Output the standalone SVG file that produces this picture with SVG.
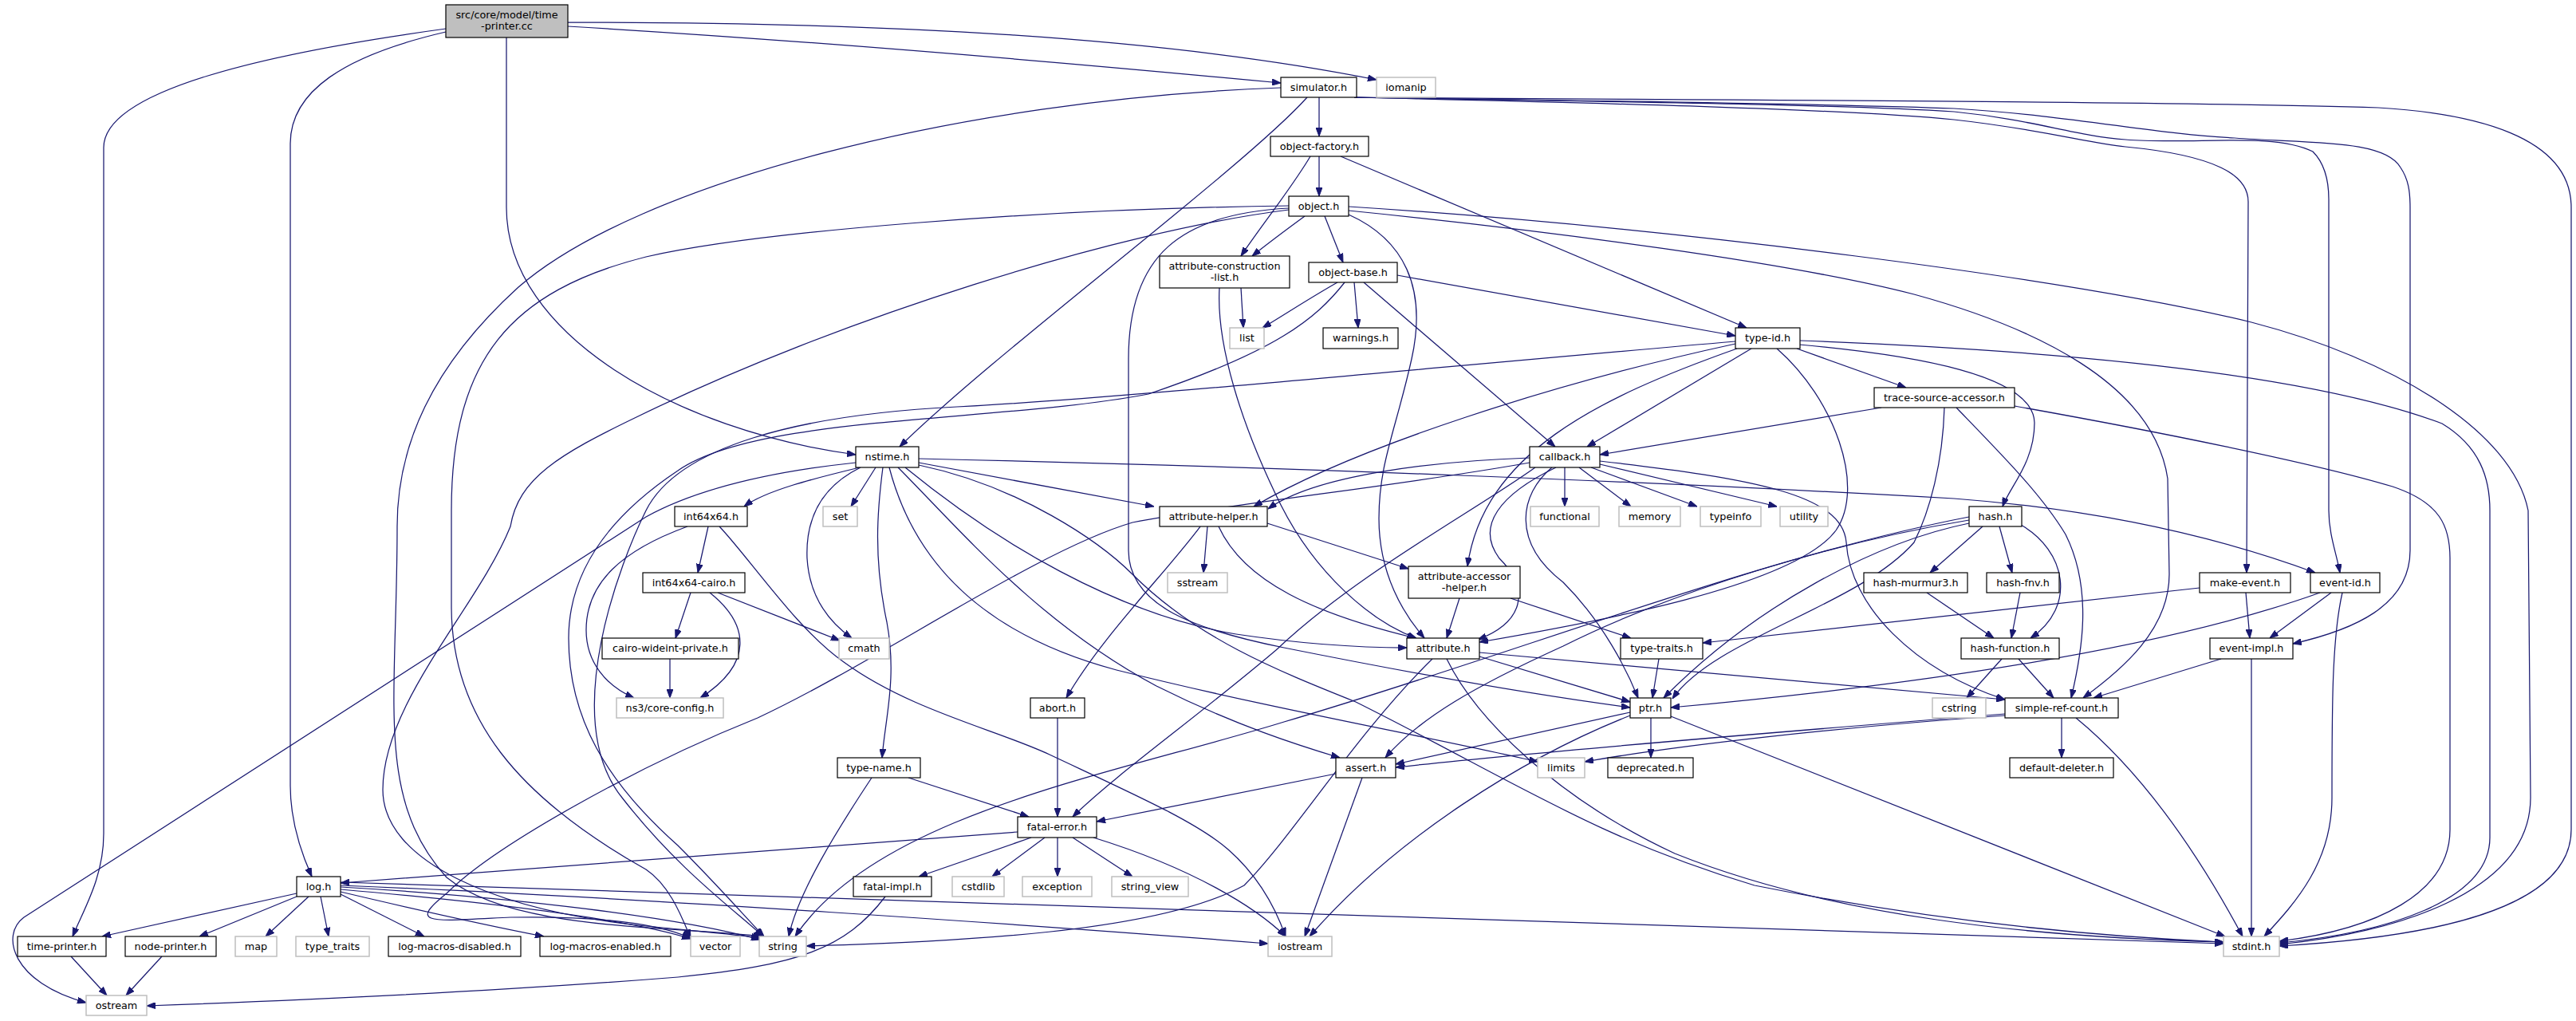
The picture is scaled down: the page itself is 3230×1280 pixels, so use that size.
<svg xmlns="http://www.w3.org/2000/svg" width="3230" height="1280" viewBox="0 0 3230 1280">
<style>
rect{fill:#fff;stroke:#000;stroke-width:1.2}
.x rect{stroke:#bfbfbf;stroke-width:1.5}
#root rect{fill:#bfbfbf}
text{font-family:"DejaVu Sans","Liberation Sans",sans-serif;font-size:12.8px;text-anchor:middle;fill:#000}
.e path{fill:none;stroke:#191970;stroke-width:1.25;marker-end:url(#a)}
</style>
<defs>
<marker id="a" markerUnits="userSpaceOnUse" markerWidth="11" markerHeight="8" refX="11" refY="4" orient="auto" viewBox="0 0 11 8"><path d="M0,0L11,4L0,8z" fill="#191970" stroke="#191970" stroke-width="1"/></marker>
</defs>
<rect x="0" y="0" width="3230" height="1280" style="fill:#fff;stroke:none"/>
<g id="edges" class="e">
<path d="M559,36 C420,55 130,100 130,185 L130,1045 C130,1100 105,1140 91,1174"/>
<path d="M559,40 C430,70 364,115 364,180 L364,985 C364,1030 378,1070 391,1099"/>
<path d="M635,47 L635,260 C635,420 850,540 1073,570"/>
<path d="M712,33 C1000,50 1300,75 1606,104"/>
<path d="M712,28 C1100,28 1450,45 1726,100"/>
<path d="M1654,122 L1654,171"/>
<path d="M1639,122 C1560,210 1250,440 1128,560"/>
<path d="M1606,110 C1200,125 800,230 650,360 C540,460 498,560 498,660 C498,880 470,1000 560,1100 C640,1165 820,1160 956,1174"/>
<path d="M1698,122 C1900,127 2300,135 2450,150 C2560,162 2620,180 2665,184 C2780,195 2819,220 2819,253 L2817,718"/>
<path d="M1698,122 C1900,126 2300,130 2450,140 C2550,150 2600,170 2665,175 C2750,182 2850,165 2900,190 C2915,205 2920,225 2920,250 L2920,640 C2920,670 2930,695 2934,718"/>
<path d="M1698,122 C1900,125 2300,130 2450,136 C2600,145 2700,168 2802,173 C2900,180 2990,175 3010,210 C3020,225 3022,240 3022,260 L3022,690 C3022,760 2950,790 2875,807"/>
<path d="M1698,122 C2000,125 2700,126 2982,135 C3100,142 3224,170 3224,260 L3224,1040 C3224,1140 3050,1175 2858,1186"/>
<path d="M1654,196 L1654,246"/>
<path d="M1643,196 C1620,235 1580,285 1556,321"/>
<path d="M1681,196 L2190,411"/>
<path d="M1636,271 C1610,290 1590,305 1570,321"/>
<path d="M1661,271 L1684,329"/>
<path d="M1691,269 C1760,300 1790,360 1770,450 C1750,540 1729,580 1729,650 C1729,720 1760,770 1786,800"/>
<path d="M1616,261 C1480,268 1415,320 1415,450 L1415,690 C1415,760 1500,790 1610,812 C1750,840 1900,868 2044,887"/>
<path d="M1691,264 C1950,290 2250,330 2400,369 C2550,410 2700,480 2718,600 L2720,720 C2720,790 2660,840 2612,875"/>
<path d="M1691,259 C2100,285 2600,350 2823,404 C3000,450 3150,540 3170,640 L3173,1000 C3173,1120 3000,1170 2858,1184"/>
<path d="M1616,258 C1300,262 950,290 810,322 C640,365 566,450 566,640 L566,760 C566,900 650,1000 810,1090 C840,1110 855,1150 866,1176"/>
<path d="M1616,263 C1400,290 1050,400 800,522 C700,570 650,600 640,660 C600,760 480,880 480,990 C480,1080 620,1140 800,1160 C880,1168 930,1172 953,1176"/>
<path d="M1677,354 C1640,375 1610,395 1583,411"/>
<path d="M1698,354 L1703,411"/>
<path d="M1752,345 L2176,421"/>
<path d="M1710,354 L1950,560"/>
<path d="M1686,354 C1650,400 1600,440 1440,494 C1250,530 950,520 850,590 C760,650 713,720 713,800 C713,900 760,980 850,1060 C900,1110 935,1150 958,1174"/>
<path d="M1556,361 L1559,411"/>
<path d="M1529,361 C1525,430 1555,530 1606,633 C1650,720 1720,780 1776,800"/>
<path d="M2196,437 L1990,560"/>
<path d="M2253,437 L2390,486"/>
<path d="M2256,432 C2400,445 2550,470 2551,530 C2551,580 2520,610 2511,635"/>
<path d="M2257,427 C2600,440 2900,470 3062,531 C3110,560 3122,600 3122,640 L3122,1050 C3122,1130 2990,1170 2858,1182"/>
<path d="M2176,431 C1950,480 1700,560 1572,635"/>
<path d="M2178,437 C2000,500 1860,570 1840,710"/>
<path d="M2228,437 C2300,500 2340,610 2302,665 C2250,735 2000,780 1855,805"/>
<path d="M2176,428 C1800,460 1400,500 1200,510 C1000,520 850,560 810,640 C780,700 700,900 780,1000 C850,1090 920,1140 957,1174"/>
<path d="M2359,511 L2006,570"/>
<path d="M2438,511 C2436,580 2420,640 2400,680 C2330,760 2150,800 2097,876"/>
<path d="M2453,511 C2510,570 2560,620 2590,670 C2625,740 2610,820 2597,875"/>
<path d="M2526,509 C2700,540 2900,580 3000,610 C3060,630 3072,660 3072,700 L3072,1040 C3072,1120 2980,1165 2858,1180"/>
<path d="M1098,586 L1067,635"/>
<path d="M1078,586 C1020,600 960,615 933,635"/>
<path d="M1073,580 C960,592 870,615 810,648 L30,1150 C0,1172 15,1232 108,1257"/>
<path d="M1079,586 C1030,610 1010,650 1012,700 C1015,750 1040,780 1068,800"/>
<path d="M1107,586 C1100,640 1095,700 1112,780 C1125,850 1110,900 1106,950"/>
<path d="M1115,586 C1150,720 1250,800 1400,840 C1600,890 1800,925 1928,955"/>
<path d="M1126,586 C1200,660 1300,780 1450,860 C1550,910 1630,935 1680,950"/>
<path d="M1135,586 C1250,680 1400,770 1550,795 C1650,810 1720,812 1764,812"/>
<path d="M1152,580 L1447,635"/>
<path d="M1152,575 C1600,585 2100,605 2450,625 C2650,640 2800,680 2903,718"/>
<path d="M1152,583 C1280,610 1380,680 1420,720 C1500,800 1600,840 1700,880 C1900,980 2000,1050 2200,1110 C2450,1160 2650,1175 2788,1181"/>
<path d="M1962,586 L1962,635"/>
<path d="M1980,586 L2045,635"/>
<path d="M1995,586 L2128,635"/>
<path d="M2006,582 L2228,635"/>
<path d="M1918,574 C1800,578 1650,595 1590,638"/>
<path d="M1951,586 C1880,620 1850,660 1880,700 C1920,740 1910,780 1853,802"/>
<path d="M1946,586 C1905,620 1895,680 1960,730 C2010,780 2040,840 2054,875"/>
<path d="M2006,578 C2200,600 2310,620 2315,680 C2320,760 2400,840 2514,877"/>
<path d="M1925,586 C1850,640 1700,720 1600,815 C1500,900 1400,970 1345,1024"/>
<path d="M1918,580 C1750,610 1550,630 1420,655 C1300,690 1100,830 950,900 C800,960 620,1060 560,1120 C510,1160 540,1155 640,1150 C760,1148 830,1160 866,1176"/>
<path d="M888,660 L875,718"/>
<path d="M862,660 C780,690 735,730 735,790 C735,830 760,860 795,875"/>
<path d="M902,660 C940,700 1000,790 1058,830 C1140,890 1250,915 1316,946 C1420,995 1500,1030 1540,1065 C1580,1100 1600,1140 1612,1174"/>
<path d="M866,743 L847,800"/>
<path d="M900,743 L1053,803"/>
<path d="M890,743 C940,783 945,832 878,875"/>
<path d="M840,826 L840,875"/>
<path d="M1514,660 L1509,718"/>
<path d="M1505,660 C1460,720 1380,800 1337,875"/>
<path d="M1528,660 C1560,730 1650,770 1775,800"/>
<path d="M1589,656 L1766,713"/>
<path d="M1830,750 L1814,800"/>
<path d="M1894,750 L2045,800"/>
<path d="M1855,823 L2044,880"/>
<path d="M1855,818 L2514,877"/>
<path d="M1814,826 C1850,900 1950,1000 2100,1070 C2300,1150 2550,1175 2788,1181"/>
<path d="M1796,826 C1700,920 1620,1050 1560,1110 C1450,1170 1200,1180 1011,1186"/>
<path d="M2080,826 L2072,875"/>
<path d="M2070,900 L2070,950"/>
<path d="M2044,893 L1750,958"/>
<path d="M2044,897 C1910,950 1750,1050 1642,1174"/>
<path d="M2095,898 L2790,1174"/>
<path d="M2585,900 L2585,950"/>
<path d="M2603,900 C2670,955 2740,1040 2812,1174"/>
<path d="M2514,895 C2300,912 1950,940 1750,962"/>
<path d="M2514,897 C2300,912 2100,935 1987,955"/>
<path d="M2486,660 L2420,718"/>
<path d="M2507,660 L2523,718"/>
<path d="M2534,658 C2590,690 2605,760 2546,800"/>
<path d="M2469,656 C2350,680 2200,760 2086,875"/>
<path d="M2469,652 C2300,680 2100,740 1960,810 C1850,860 1780,900 1737,950"/>
<path d="M2469,648 C2200,700 1900,820 1610,905 C1400,970 1100,1020 997,1174"/>
<path d="M2416,743 L2500,800"/>
<path d="M2533,743 L2522,800"/>
<path d="M2510,826 L2466,875"/>
<path d="M2531,826 L2575,875"/>
<path d="M2816,743 L2821,800"/>
<path d="M2758,737 L2135,806"/>
<path d="M2923,743 L2846,800"/>
<path d="M2909,743 C2750,800 2500,850 2095,887"/>
<path d="M2937,743 C2924,800 2924,885 2924,1000 C2924,1080 2880,1130 2839,1174"/>
<path d="M2785,826 L2625,875"/>
<path d="M2823,826 L2823,1174"/>
<path d="M1675,970 L1375,1030"/>
<path d="M1708,975 L1636,1174"/>
<path d="M1326,900 L1326,1024"/>
<path d="M1139,975 L1290,1024"/>
<path d="M1093,975 C1050,1040 1000,1120 989,1174"/>
<path d="M1293,1050 L1152,1099"/>
<path d="M1310,1050 L1244,1099"/>
<path d="M1326,1050 L1326,1099"/>
<path d="M1345,1050 L1420,1099"/>
<path d="M1371,1050 C1497,1089 1575,1138 1612,1174"/>
<path d="M1276,1043 C1000,1065 700,1085 427,1107"/>
<path d="M1110,1124 C1060,1190 1000,1210 850,1225 C600,1245 350,1255 184,1261"/>
<path d="M372,1120 L128,1174"/>
<path d="M372,1124 L250,1174"/>
<path d="M387,1124 L333,1174"/>
<path d="M402,1124 L412,1174"/>
<path d="M427,1121 L532,1174"/>
<path d="M427,1118 C520,1140 620,1162 682,1174"/>
<path d="M427,1115 C600,1130 780,1150 866,1177"/>
<path d="M427,1112 C650,1125 850,1150 953,1178"/>
<path d="M427,1110 C800,1125 1300,1160 1590,1183"/>
<path d="M427,1106 C1000,1118 1800,1150 2788,1183"/>
<path d="M89,1199 L134,1248"/>
<path d="M203,1199 L158,1248"/>
</g>
<g id="root"><rect x="559" y="6" width="153" height="41"/><text x="635.5" y="23.3">src/core/model/time</text><text x="635.5" y="37.3">-printer.cc</text></g>
<g id="simulator"><rect x="1606" y="97" width="95" height="25"/><text x="1653.5" y="114.3">simulator.h</text></g>
<g id="iomanip" class="x"><rect x="1726" y="97" width="74" height="25"/><text x="1763" y="114.3">iomanip</text></g>
<g id="object-factory"><rect x="1593" y="171" width="123" height="25"/><text x="1654.5" y="188.3">object-factory.h</text></g>
<g id="object"><rect x="1616" y="246" width="75" height="25"/><text x="1653.5" y="263.3">object.h</text></g>
<g id="attribute-construction-list"><rect x="1454" y="321" width="163" height="40"/><text x="1535.5" y="338">attribute-construction</text><text x="1535.5" y="352">-list.h</text></g>
<g id="object-base"><rect x="1641" y="329" width="111" height="25"/><text x="1696.5" y="346.3">object-base.h</text></g>
<g id="list" class="x"><rect x="1542" y="411" width="43" height="26"/><text x="1563.5" y="428.3">list</text></g>
<g id="warnings"><rect x="1659" y="411" width="94" height="26"/><text x="1706" y="428.3">warnings.h</text></g>
<g id="type-id"><rect x="2176" y="411" width="81" height="26"/><text x="2216.5" y="428.3">type-id.h</text></g>
<g id="trace-source-accessor"><rect x="2350" y="486" width="176" height="25"/><text x="2438" y="503.3">trace-source-accessor.h</text></g>
<g id="nstime"><rect x="1073" y="560" width="79" height="26"/><text x="1112.5" y="577.3">nstime.h</text></g>
<g id="callback"><rect x="1918" y="560" width="88" height="26"/><text x="1962" y="577.3">callback.h</text></g>
<g id="int64x64"><rect x="846" y="635" width="91" height="25"/><text x="891.5" y="652.3">int64x64.h</text></g>
<g id="set" class="x"><rect x="1032" y="635" width="43" height="25"/><text x="1053.5" y="652.3">set</text></g>
<g id="attribute-helper"><rect x="1454" y="635" width="135" height="25"/><text x="1521.5" y="652.3">attribute-helper.h</text></g>
<g id="functional" class="x"><rect x="1919" y="635" width="86" height="25"/><text x="1962" y="652.3">functional</text></g>
<g id="memory" class="x"><rect x="2030" y="635" width="77" height="25"/><text x="2068.5" y="652.3">memory</text></g>
<g id="typeinfo" class="x"><rect x="2132" y="635" width="76" height="25"/><text x="2170" y="652.3">typeinfo</text></g>
<g id="utility" class="x"><rect x="2232" y="635" width="60" height="25"/><text x="2262" y="652.3">utility</text></g>
<g id="hash"><rect x="2469" y="635" width="66" height="25"/><text x="2502" y="652.3">hash.h</text></g>
<g id="int64x64-cairo"><rect x="806" y="718" width="128" height="25"/><text x="870" y="735.3">int64x64-cairo.h</text></g>
<g id="sstream" class="x"><rect x="1464" y="718" width="75" height="25"/><text x="1501.5" y="735.3">sstream</text></g>
<g id="attribute-accessor-helper"><rect x="1766" y="710" width="140" height="40"/><text x="1836" y="727">attribute-accessor</text><text x="1836" y="741">-helper.h</text></g>
<g id="hash-murmur3"><rect x="2337" y="718" width="130" height="25"/><text x="2402" y="735.3">hash-murmur3.h</text></g>
<g id="hash-fnv"><rect x="2491" y="718" width="91" height="25"/><text x="2536.5" y="735.3">hash-fnv.h</text></g>
<g id="make-event"><rect x="2758" y="718" width="114" height="25"/><text x="2815" y="735.3">make-event.h</text></g>
<g id="event-id"><rect x="2897" y="718" width="87" height="25"/><text x="2940.5" y="735.3">event-id.h</text></g>
<g id="cairo-wideint-private"><rect x="755" y="800" width="171" height="26"/><text x="840.5" y="817.3">cairo-wideint-private.h</text></g>
<g id="cmath" class="x"><rect x="1052" y="800" width="63" height="26"/><text x="1083.5" y="817.3">cmath</text></g>
<g id="attribute"><rect x="1764" y="800" width="91" height="26"/><text x="1809.5" y="817.3">attribute.h</text></g>
<g id="type-traits"><rect x="2032" y="800" width="103" height="26"/><text x="2083.5" y="817.3">type-traits.h</text></g>
<g id="hash-function"><rect x="2459" y="800" width="123" height="26"/><text x="2520.5" y="817.3">hash-function.h</text></g>
<g id="event-impl"><rect x="2771" y="800" width="104" height="26"/><text x="2823" y="817.3">event-impl.h</text></g>
<g id="core-config" class="x"><rect x="773" y="875" width="134" height="25"/><text x="840" y="892.3">ns3/core-config.h</text></g>
<g id="abort"><rect x="1292" y="875" width="68" height="25"/><text x="1326" y="892.3">abort.h</text></g>
<g id="ptr"><rect x="2044" y="875" width="51" height="25"/><text x="2069.5" y="892.3">ptr.h</text></g>
<g id="cstring" class="x"><rect x="2423" y="875" width="67" height="25"/><text x="2456.5" y="892.3">cstring</text></g>
<g id="simple-ref-count"><rect x="2514" y="875" width="142" height="25"/><text x="2585" y="892.3">simple-ref-count.h</text></g>
<g id="type-name"><rect x="1050" y="950" width="104" height="25"/><text x="1102" y="967.3">type-name.h</text></g>
<g id="assert"><rect x="1675" y="950" width="75" height="25"/><text x="1712.5" y="967.3">assert.h</text></g>
<g id="limits" class="x"><rect x="1928" y="950" width="59" height="25"/><text x="1957.5" y="967.3">limits</text></g>
<g id="deprecated"><rect x="2016" y="950" width="107" height="25"/><text x="2069.5" y="967.3">deprecated.h</text></g>
<g id="default-deleter"><rect x="2520" y="950" width="130" height="25"/><text x="2585" y="967.3">default-deleter.h</text></g>
<g id="fatal-error"><rect x="1276" y="1024" width="99" height="26"/><text x="1325.5" y="1041.3">fatal-error.h</text></g>
<g id="log"><rect x="372" y="1099" width="55" height="25"/><text x="399.5" y="1116.3">log.h</text></g>
<g id="fatal-impl"><rect x="1070" y="1099" width="98" height="25"/><text x="1119" y="1116.3">fatal-impl.h</text></g>
<g id="cstdlib" class="x"><rect x="1194" y="1099" width="65" height="25"/><text x="1226.5" y="1116.3">cstdlib</text></g>
<g id="exception" class="x"><rect x="1282" y="1099" width="87" height="25"/><text x="1325.5" y="1116.3">exception</text></g>
<g id="string_view" class="x"><rect x="1394" y="1099" width="96" height="25"/><text x="1442" y="1116.3">string_view</text></g>
<g id="time-printer"><rect x="22" y="1174" width="111" height="25"/><text x="77.5" y="1191.3">time-printer.h</text></g>
<g id="node-printer"><rect x="157" y="1174" width="114" height="25"/><text x="214" y="1191.3">node-printer.h</text></g>
<g id="map" class="x"><rect x="295" y="1174" width="52" height="25"/><text x="321" y="1191.3">map</text></g>
<g id="type_traits" class="x"><rect x="371" y="1174" width="92" height="25"/><text x="417" y="1191.3">type_traits</text></g>
<g id="log-macros-disabled"><rect x="487" y="1174" width="166" height="25"/><text x="570" y="1191.3">log-macros-disabled.h</text></g>
<g id="log-macros-enabled"><rect x="677" y="1174" width="164" height="25"/><text x="759" y="1191.3">log-macros-enabled.h</text></g>
<g id="vector" class="x"><rect x="866" y="1174" width="62" height="25"/><text x="897" y="1191.3">vector</text></g>
<g id="string" class="x"><rect x="952" y="1174" width="59" height="25"/><text x="981.5" y="1191.3">string</text></g>
<g id="iostream" class="x"><rect x="1590" y="1174" width="80" height="25"/><text x="1630" y="1191.3">iostream</text></g>
<g id="stdint" class="x"><rect x="2788" y="1174" width="70" height="25"/><text x="2823" y="1191.3">stdint.h</text></g>
<g id="ostream" class="x"><rect x="108" y="1248" width="76" height="25"/><text x="146" y="1265.3">ostream</text></g>
</svg>
